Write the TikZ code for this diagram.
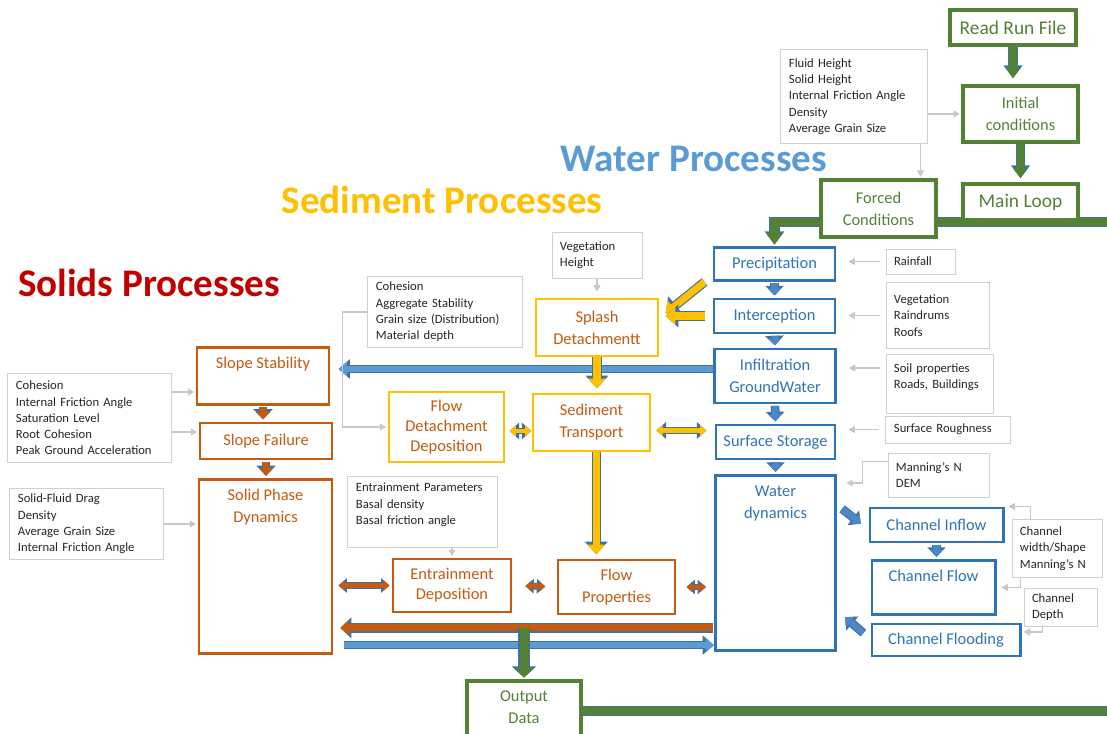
\documentclass[tikz,border=0pt]{standalone}
\usepackage{fontspec}
\setmainfont{Carlito}
\usetikzlibrary{arrows.meta, backgrounds}

\definecolor{loopgreen}{HTML}{548235}
\definecolor{waterblue}{HTML}{2E75B6}
\definecolor{arrowblue}{HTML}{4A88C8}
\definecolor{lightblue}{HTML}{5B9BD5}
\definecolor{edgeblue}{HTML}{41719C}
\definecolor{sedyellow}{HTML}{FFC000}
\definecolor{solidorange}{HTML}{C55A11}
\definecolor{solidred}{HTML}{C00000}
\definecolor{paramgray}{HTML}{D0D0D0}
\definecolor{arrowgray}{HTML}{C8C8C8}

\tikzset{
  box/.style={draw, fill=white, line width=2.1pt, align=center, font=\fontsize{11.7}{15.5}\selectfont},
  greenbox/.style={box, draw=loopgreen, text=loopgreen, line width=2.5pt},
  bluebox/.style={box, draw=waterblue, text=waterblue},
  yellowbox/.style={box, draw=sedyellow, text=solidorange},
  orangebox/.style={box, draw=solidorange, text=solidorange},
  topbox/.style 2 args={anchor=north, inner ysep=6pt, text height=#1, text depth=#2},
  parambox/.style={draw=paramgray, fill=white, line width=0.7pt, align=left, inner xsep=0.2cm, text=black!85, font=\fontsize{9}{11.6}\selectfont},
  heading/.style={font=\bfseries\fontsize{27.8}{32}\selectfont},
  paramarrow/.style={draw=arrowgray, line width=0.8pt, -{Triangle[width=5pt,length=4.5pt]}, shorten >=1pt},
  % block arrows: tip grows with the line, thin blue edge drawn first
  edged/.style={preaction={draw=edgeblue, line width=\pgflinewidth+0.8pt}},
  greenarrow/.style={draw=loopgreen, line width=5.4pt, >={Triangle[width=0pt 1.85, length=0pt 1.3]}, edged},
  bluearrow/.style={draw=arrowblue, line width=4.6pt, >={Triangle[width=0pt 2.07, length=0pt 1.1]}, edged, shorten >=1.5pt, shorten <=1pt},
  lightarrow/.style={draw=lightblue, line width=4.5pt, >={Triangle[width=0pt 2.2, length=0pt 1.33]}, edged},
  yellowarrow/.style={draw=sedyellow, line width=5pt, >={Triangle[width=0pt 2.4, length=0pt 1.4]}, edged},
  yellowsmall/.style={draw=sedyellow, line width=3pt, >={Triangle[width=0pt 2.5, length=0pt 1.5]}, edged},
  orangearrow/.style={draw=solidorange, line width=4.5pt, >={Triangle[width=0pt 2.2, length=0pt 1.2]}, edged, shorten >=1.5pt, shorten <=1pt},
  orangesmall/.style={draw=solidorange, line width=3.2pt, >={Triangle[width=0pt 2.1, length=0pt 1.25]}, edged}
}

\begin{document}
\begin{tikzpicture}[x=0.025cm, y=-0.025cm]
\useasboundingbox (0,0) rectangle (1107,734);

% Headings
\node[heading, text=lightblue] (watertitle) at (694,159) {Water Processes};
\node[heading, text=sedyellow] (sedtitle) at (442,200) {Sediment Processes};
\node[heading, text=solidred] (solidtitle) at (149,283) {Solids Processes};

% Main loop
\node[greenbox, font=\fontsize{13.8}{16}\selectfont, minimum width=3.15cm, minimum height=0.875cm] (readrun) at (1013,27.5) {Read Run File};
\node[greenbox, minimum width=2.875cm, minimum height=1.4cm] (initcond) at (1020.5,114) {Initial\\conditions};
\node[greenbox, font=\fontsize{13.8}{16}\selectfont, minimum width=2.875cm, minimum height=0.9cm] (mainloop) at (1020.5,202) {Main Loop};
\node[greenbox, minimum width=2.875cm, minimum height=1.425cm] (forced) at (878.5,208.5) {Forced\\Conditions};
\node[greenbox, topbox={24.5pt}{0.22cm}, minimum width=2.85cm] (output) at (524,679) {Output\\Data};

% Water processes
\node[bluebox, minimum width=3.025cm, minimum height=0.825cm] (precip) at (774.5,264) {Precipitation};
\node[bluebox, minimum width=3.025cm, minimum height=0.85cm] (intercep) at (774.5,316) {Interception};
\node[bluebox, minimum width=3.025cm, minimum height=1.35cm] (infil) at (775,376) {Infiltration\\GroundWater};
\node[bluebox, minimum width=2.975cm, minimum height=0.85cm] (surf) at (775.5,442) {Surface Storage};
\node[bluebox, topbox={24.5pt}{3.09cm}, minimum width=3cm] (waterdyn) at (775.5,474) {Water\\dynamics};
\node[bluebox, minimum width=3.325cm, minimum height=0.85cm] (chinflow) at (936.5,525) {Channel Inflow};
\node[bluebox, topbox={9pt}{0.61cm}, minimum width=3.075cm] (chflow) at (933.5,559) {Channel Flow};
\node[bluebox, minimum width=3.7cm, minimum height=0.8cm] (chflood) at (946,640) {Channel Flooding};

% Sediment processes
\node[yellowbox, minimum width=3.05cm, minimum height=1.425cm] (splash) at (597,327.5) {Splash\\Detachmentt};
\node[yellowbox, minimum width=2.925cm, minimum height=1.425cm] (sedtrans) at (591.5,422.5) {Sediment\\Transport};
\node[yellowbox, font=\fontsize{11.7}{14.2}\selectfont, minimum width=2.875cm, minimum height=1.75cm] (flowdet) at (446.5,427) {Flow\\Detachment\\Deposition};

% Solids processes
\node[orangebox, topbox={9pt}{0.69cm}, minimum width=3.3cm] (slopestab) at (263,346) {Slope Stability};
\node[orangebox, minimum width=3.3cm, minimum height=0.9cm] (slopefail) at (266,441) {Slope Failure};
\node[orangebox, topbox={24.5pt}{3.07cm}, minimum width=3.325cm] (solidphase) at (265.5,478) {Solid Phase\\Dynamics};
\node[orangebox, font=\fontsize{11.7}{14.2}\selectfont, minimum width=2.95cm, minimum height=1.325cm] (entrain) at (452,585.5) {Entrainment\\Deposition};
\node[orangebox, minimum width=2.925cm, minimum height=1.35cm] (flowprop) at (616.5,587) {Flow\\Properties};

% Parameters
\node[parambox, text width=3.25cm, minimum height=2.325cm] (fluid) at (854,96.5) {Fluid Height\\Solid Height\\Internal Friction Angle\\Density\\Average Grain Size};
\node[parambox, text width=1.85cm, minimum height=1.125cm] (veght) at (597,255.5) {Vegetation\\Height};
\node[parambox, text width=3.45cm, minimum height=1.75cm] (cohagg) at (445,312) {Cohesion\\Aggregate Stability\\Grain size (Distribution)\\Material depth};
\node[parambox, text width=3.675cm, minimum height=2.2cm] (cohleft) at (89.5,418) {Cohesion\\Internal Friction Angle\\Saturation Level\\Root Cohesion\\Peak Ground Acceleration};
\node[parambox, text width=3.425cm, minimum height=1.75cm] (drag) at (86.5,524) {Solid-Fluid Drag\\Density\\Average Grain Size\\Internal Friction Angle};
\node[parambox, text width=3.325cm, minimum height=1.75cm] (entpar) at (422.5,512) {Entrainment Parameters\\Basal density\\Basal friction angle\\\mbox{}};
\node[parambox, text width=1.325cm, minimum height=0.625cm] (rain) at (920.5,261.5) {Rainfall};
\node[parambox, text width=2.175cm, minimum height=1.625cm] (vegroof) at (937.5,315.5) {Vegetation\\Raindrums\\Roofs};
\node[parambox, text width=2.275cm, minimum height=1.45cm] (soil) at (939.5,384) {Soil properties\\Roads, Buildings\\\mbox{}};
\node[parambox, text width=2.7cm, minimum height=0.675cm] (rough) at (948,429.5) {Surface Roughness};
\node[parambox, text width=2.125cm, minimum height=1.1cm] (manning) at (938.5,475) {Manning’s N\\DEM};
\node[parambox, text width=1.85cm, minimum height=1.425cm] (chwidth) at (1057,548.5) {Channel\\width/Shape\\Manning’s N};
\node[parambox, text width=1.425cm, minimum height=0.95cm] (chdepth) at (1060.5,607) {Channel\\Depth};

% Loop lines (behind the boxes)
\begin{scope}[on background layer]
\coordinate (loopend) at (1120,222);
\draw[greenarrow, ->, line width=5.7pt, shorten >=1pt] (loopend) -| (precip.north);
\coordinate (outend) at (1120,708);
\draw[greenarrow, line width=5.7pt] (output.east) -- (output.east -| outend);
\end{scope}

% Main loop arrows
\draw[greenarrow, ->, shorten >=0.15cm] (readrun.south) -- (readrun.south |- initcond.north);
\draw[greenarrow, ->, shorten >=0.1cm] (initcond.south) -- (initcond.south |- mainloop.north);

% Water arrows
\draw[bluearrow, ->] (precip.south) -- (intercep.north);
\draw[bluearrow, ->] (intercep.south) -- (infil.north);
\draw[bluearrow, ->] (infil.south) -- (surf.north);
\draw[bluearrow, ->] (surf.south) -- (waterdyn.north);
\draw[bluearrow, ->] (chinflow.south) -- (chinflow.south |- chflow.north);
\draw[bluearrow, ->] ([xshift=0.1cm,yshift=-0.85cm]waterdyn.north east) -- ([xshift=-0.15cm]chinflow.west);
\draw[bluearrow, ->] ([xshift=-0.15cm,yshift=0.15cm]chflood.west) -- ([xshift=0.16cm,yshift=0.9cm]waterdyn.south east);
\coordinate (infilout) at ([yshift=0.175cm]infil.west);
\draw[lightarrow, ->, shorten >=0.2cm] (infilout) -- (infilout -| slopestab.east);

% Solids arrows
\draw[orangearrow, ->] (slopestab.south) -- (slopestab.south |- slopefail.north);
\draw[orangearrow, ->] (slopefail.south) -- (slopefail.south |- solidphase.north);
\draw[orangesmall, <->, shorten <=0.05cm, shorten >=0.125cm] (entrain.west) -- (entrain.west -| solidphase.east);
\draw[orangesmall, <->, shorten <=0.32cm, shorten >=0.28cm] (entrain.east) -- (flowprop.west);
\draw[orangesmall, <->, shorten <=0.25cm, shorten >=0.2cm] (flowprop.east) -- (flowprop.east -| waterdyn.west);
\coordinate (wdout) at ([yshift=0.6cm]waterdyn.south west);
\draw[orangearrow, ->, line width=5pt, shorten >=0.17cm] (wdout) -- (wdout -| solidphase.east);
\coordinate (bluein) at ([xshift=0.275cm,yshift=0.25cm]solidphase.south east);
\draw[lightarrow, ->] (bluein) -- (bluein -| waterdyn.west);

% Sediment arrows
\draw[yellowarrow, ->] ([xshift=-0.2cm]precip.south west) -- ([xshift=0.15cm,yshift=0.35cm]splash.east);
\draw[yellowarrow, ->, shorten <=0.2cm, shorten >=0.15cm] (intercep.west) -- (intercep.west -| splash.east);
\draw[yellowarrow, ->, shorten >=0.1cm] (splash.south) -- (splash.south |- sedtrans.north);
\coordinate (sedright) at ([yshift=-0.2cm]sedtrans.east);
\draw[yellowsmall, <->, shorten <=0.12cm, shorten >=0.2cm] (sedright) -- (sedright -| surf.west);
\coordinate (flowdetright) at ([yshift=-0.1cm]flowdet.east);
\draw[yellowsmall, <->, shorten <=0.1cm] (flowdetright) -- (flowdetright -| sedtrans.west);
\coordinate (seddown) at ([xshift=0.12cm]sedtrans.south);
\draw[yellowarrow, ->, shorten >=0.1cm] (seddown) -- (seddown |- flowprop.north);

% Output
\coordinate (outsplit) at (524,628);
\draw[greenarrow, line width=6.4pt, >={Triangle[width=0pt 2.1, length=0pt 1]}, ->, shorten >=1pt] (outsplit) -- (output.north);

% Parameter arrows
\draw[paramarrow] (fluid.east |- initcond.west) -- (initcond.west);
\coordinate (fluidbot) at ([xshift=-0.175cm]fluid.south east);
\draw[paramarrow] (fluidbot) -- (fluidbot |- forced.north);
\draw[paramarrow, shorten >=0.15cm] (veght) -- (splash);
\draw[paramarrow] (cohagg.west) -- ++(-25,0) |- (flowdet.west);
\coordinate (cohtop) at ([yshift=0.65cm]cohleft.east);
\draw[paramarrow] (cohtop) -- (cohtop -| slopestab.west);
\coordinate (cohlow) at ([yshift=-0.35cm]cohleft.east);
\draw[paramarrow] (cohlow) -- (cohlow -| slopefail.west);
\draw[paramarrow] (drag.east) -- (drag.east -| solidphase.west);
\draw[paramarrow] (entpar.south -| entrain.north) -- (entrain.north);
\draw[paramarrow, shorten <=0.15cm, shorten >=0.3cm] (rain.west) -- (rain.west -| precip.east);
\draw[paramarrow, shorten <=0.15cm, shorten >=0.3cm] (vegroof.west) -- (vegroof.west -| intercep.east);
\coordinate (soilin) at ([yshift=0.4cm]soil.west);
\draw[paramarrow, shorten <=0.15cm, shorten >=0.3cm] (soilin) -- (soilin -| infil.east);
\draw[paramarrow, shorten <=0.15cm, shorten >=0.3cm] (rough.west) -- (rough.west -| surf.east);
\coordinate (manout) at ([yshift=-0.225cm]manning.north west);
\coordinate (wdin) at ([xshift=0.2cm,yshift=-0.225cm]waterdyn.north east);
\draw[paramarrow] (manout) -- ++(-25,0) |- (wdin);
\coordinate (chwtop) at ([xshift=0.475cm]chwidth.north west);
\draw[paramarrow, shorten >=0.1cm] (chwtop) |- (chinflow.north east);
\coordinate (chwbot) at ([xshift=0.225cm]chwidth.south west);
\draw[paramarrow, shorten >=0.125cm] (chwbot) |- (chflow.east);
\coordinate (chdbot) at ([xshift=0.475cm]chdepth.south west);
\coordinate (floodin) at ([yshift=0.2cm]chflood.east);
\draw[paramarrow, shorten >=0.05cm] (chdbot) |- (floodin);

\end{tikzpicture}
\end{document}
